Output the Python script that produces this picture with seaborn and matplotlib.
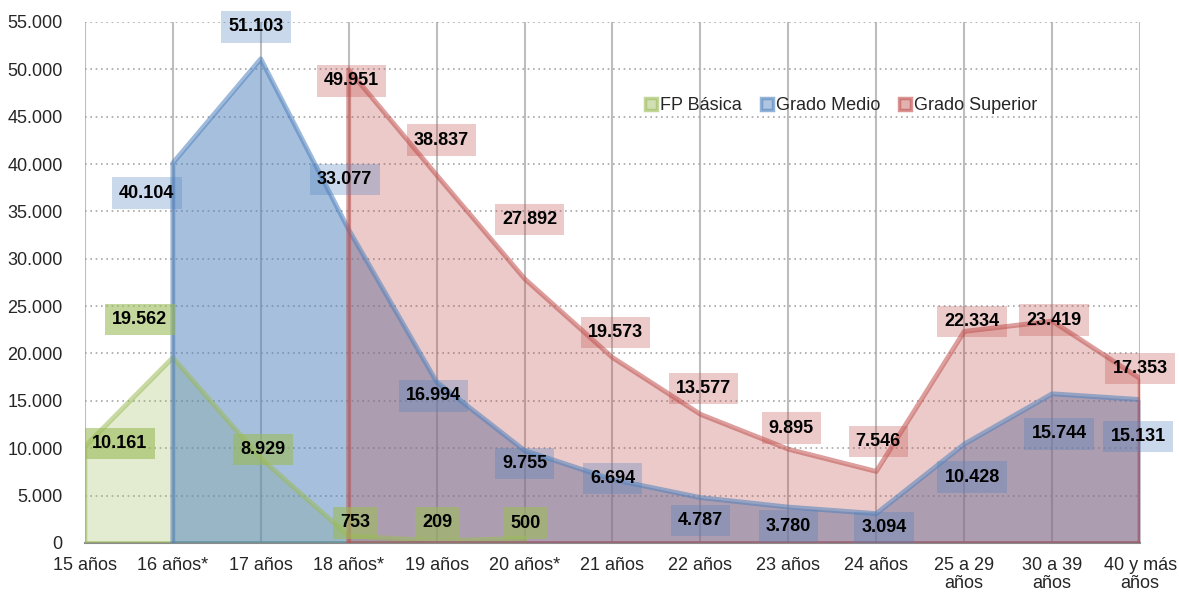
import numpy as np
import matplotlib
matplotlib.use("Agg")
import matplotlib.pyplot as plt
import seaborn as sns
from matplotlib.lines import Line2D
from matplotlib.ticker import FuncFormatter, MultipleLocator

# ==============================
# DATA
# ==============================
categorias = ["15 años", "16 años*", "17 años", "18 años*", "19 años", "20 años*",
              "21 años", "22 años", "23 años", "24 años", "25 a 29\naños",
              "30 a 39\naños", "40 y más\naños"]

# first category index where each series begins
fp_basica = [10161, 19562, 8929, 753, 209, 500]                     # 15 .. 20 años
grado_medio = [40104, 51103, 33077, 16994, 9755, 6694, 4787, 3780,
               3094, 10428, 15744, 15131]                            # 16 .. 40+
grado_superior = [49951, 38837, 27892, 19573, 13577, 9895, 7546,
                  22334, 23419, 17353]                               # 18 .. 40+

# label offsets in pixels (dx, dy) from each point
off_fp = [(35, 3), (-33, 38), (2, 9), (7, 13), (1, 18), (1, 15)]
off_gm = [(-26, -30), (-5, 32), (-4, 50), (-3, -14), (0, -13), (0, 1), (0, -23),
          (0, -19), (8, -14), (8, -33), (7, -40), (-2, -37)]
off_gs = [(3, -11), (5, 35), (5, 59), (3, 25), (3, 26), (3, 21), (2, 30),
          (8, 10), (2, 1), (0, 10)]

series = [
    ("FP Básica", 0, fp_basica, "#9bbb59", 0.28, 0.6, off_fp),
    ("Grado Medio", 1, grado_medio, "#4f81bd", 0.5, 0.3, off_gm),
    ("Grado Superior", 3, grado_superior, "#c0504d", 0.3, 0.3, off_gs),
]

# ==============================
# PLOT
# ==============================
sns.set_style("white")
plt.rcParams["font.family"] = ["Liberation Sans", "DejaVu Sans"]

fig = plt.figure(figsize=(11.79, 5.94), dpi=100)
ax = fig.add_axes([0.072, 0.086, 0.895, 0.877])

for name, start, vals, col, fa, la, offs in series:
    x = np.arange(start, start + len(vals))
    ax.fill_between(x, 0, vals, color=col, alpha=fa, lw=0, zorder=2)
    # outline of the area (vertical edges included)
    xs = np.concatenate([[x[0]], x, [x[-1]]])
    ys = np.concatenate([[0], vals, [0]])
    sns.lineplot(x=xs, y=ys, ax=ax, color=col, alpha=0.55, lw=3.5,
                 sort=False, estimator=None, zorder=3)
    ax.plot([x[0], x[-1]], [0, 0], color=col, alpha=0.55, lw=3.5, zorder=3)
    for xi, v, (dx, dy) in zip(x, vals, offs):
        ax.annotate(f"{v:,}".replace(",", "."), (xi, v), xytext=(dx, dy),
                    textcoords="offset pixels", ha="center", va="center",
                    fontsize=13, fontweight="bold", color="black", zorder=5,
                    bbox=dict(boxstyle="square,pad=0.4", fc=col, ec="none", alpha=la))

ax.set_xlim(0, len(categorias) - 1)
ax.set_ylim(0, 55000)
ax.set_xticks(range(len(categorias)))
ax.set_xticklabels(categorias, fontsize=13, linespacing=1.1)
ax.yaxis.set_major_locator(MultipleLocator(5000))
ax.yaxis.set_major_formatter(FuncFormatter(lambda v, p: f"{int(v):,}".replace(",", ".")))
ax.tick_params(axis="y", labelsize=13, length=0, pad=16)
ax.tick_params(axis="x", length=0, pad=10)

ax.grid(axis="y", color="#a6a6a6", ls=(0, (1.0, 2.2)), lw=1.2, zorder=1)
ax.grid(axis="x", color="#bdbdbd", ls="-", lw=1.5, zorder=1)
ax.set_axisbelow(True)
for s in ["top", "right", "left"]:
    ax.spines[s].set_visible(False)
ax.spines["bottom"].set_color("#8c8c8c")
ax.spines["bottom"].set_linewidth(1.5)

handles = [Line2D([], [], ls="none", marker="s", markersize=9,
                  markerfacecolor=matplotlib.colors.to_rgba(c, 0.45),
                  markeredgecolor=matplotlib.colors.to_rgba(c, 0.6), markeredgewidth=2.5)
           for _, _, _, c, _, _, _ in series]
ax.legend(handles, [s[0] for s in series], loc="center", bbox_to_anchor=(0.716, 0.84),
          ncol=3, frameon=False, fontsize=13, handletextpad=0.1, columnspacing=1.0,
          handlelength=0.8)

plt.savefig("out.png", dpi=100)
